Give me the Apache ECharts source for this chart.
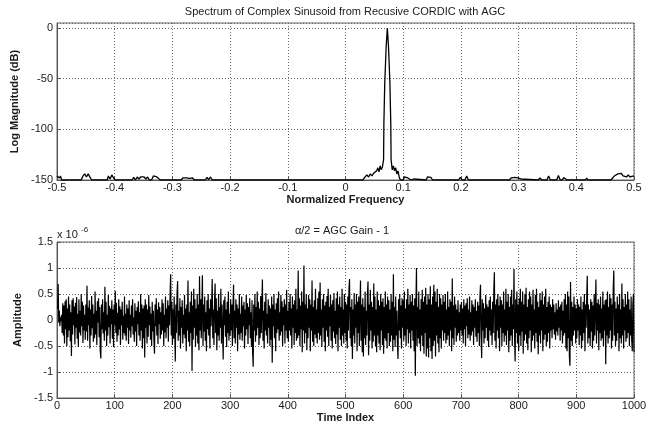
<!DOCTYPE html>
<html>
<head>
<meta charset="utf-8">
<script src="https://cdn.jsdelivr.net/npm/echarts@6/dist/echarts.min.js"></script>
<style>
  html, body { margin: 0; padding: 0; background: #fff; }
  #chart { width: 659px; height: 421px; }
</style>
</head>
<body>
<div id="chart"></div>
<script>
// top plot: spectrum (normalized frequency, dB)
const specFreq = [
  -0.5, -0.498, -0.496, -0.494, -0.492,
  -0.483, -0.481, -0.479,
  -0.458, -0.455, -0.452, -0.449, -0.446, -0.443, -0.44,
  -0.413, -0.411, -0.408, -0.405, -0.402, -0.399,
  -0.395, -0.393, -0.391,
  -0.37, -0.367, -0.364, -0.361, -0.358, -0.355, -0.352, -0.349, -0.346, -0.343, -0.34,
  -0.336, -0.333, -0.33, -0.327, -0.324, -0.321,
  -0.302, -0.3, -0.298,
  -0.285, -0.282, -0.279, -0.275, -0.271, -0.268, -0.265, -0.262,
  -0.243, -0.24, -0.237, -0.234, -0.231,
  -0.154, -0.152, -0.15,
  -0.058, -0.056, -0.054,
  -0.003, 0, 0.003,
  0.03, 0.034, 0.037, 0.04, 0.043, 0.046, 0.049, 0.052, 0.054, 0.056, 0.058, 0.06, 0.062, 0.064, 0.066,
  0.0665, 0.068, 0.0705, 0.0725, 0.0745, 0.077, 0.0785, 0.079, 0.081,
  0.083, 0.085, 0.087, 0.089, 0.091, 0.093, 0.095,
  0.1, 0.102, 0.105, 0.108, 0.111, 0.114, 0.118, 0.12,
  0.14, 0.142, 0.145, 0.148, 0.151, 0.158, 0.16, 0.162,
  0.196, 0.199, 0.202, 0.207, 0.21, 0.213,
  0.23, 0.232, 0.234, 0.25, 0.252, 0.254,
  0.284, 0.287, 0.29, 0.294, 0.298, 0.301, 0.304, 0.307,
  0.334, 0.337, 0.34, 0.349, 0.352, 0.355,
  0.366, 0.369, 0.372, 0.376, 0.378, 0.381, 0.384, 0.39, 0.392, 0.394,
  0.416, 0.418, 0.42,
  0.46, 0.463, 0.466, 0.469, 0.472, 0.475, 0.478, 0.481, 0.484, 0.487, 0.49, 0.493, 0.496, 0.5
];
const specDb = [
  -146, -145, -148, -146, -150,
  -150, -148.5, -150,
  -150, -146, -144, -147, -144, -145, -150,
  -150, -146, -149, -145, -148, -150,
  -150, -149, -150,
  -150, -147.5, -150, -147, -149, -147, -148, -147, -149, -147, -150,
  -150, -146, -145, -147, -148.5, -150,
  -150, -148.5, -150,
  -150, -148, -149.5, -148, -148.5, -150, -148, -150,
  -150, -147.5, -149.5, -147, -150,
  -150, -149, -150,
  -150, -149, -150,
  -150, -148.5, -150,
  -150, -147, -145, -147, -144, -146, -143, -144, -141, -138, -142, -136, -140, -137, -130,
  -95, -55, -18, 0, -18, -55, -95, -130, -140,
  -136, -141, -138, -144, -141, -147, -150,
  -150, -147, -146, -148, -147, -150, -149, -150,
  -150, -147, -148, -147.5, -150, -150, -149, -150,
  -150, -147.5, -150, -150, -146, -150,
  -150, -149, -150, -150, -149.5, -150,
  -150, -148, -149, -147.5, -148, -146.5, -149, -150,
  -150, -148, -150, -150, -146, -150,
  -150, -145.5, -150, -150, -147.5, -148, -150, -150, -149, -150,
  -150, -148, -150,
  -150, -148, -146, -147.5, -144, -145.5, -143.5, -146, -144.5, -147, -145, -147, -145.5, -146
];
const specYTicks = [-150, 0];

// bottom plot: AGC error, amplitude in units of 1e-6, time index 1..1000
const agcError = [
  0.21,0.69,-0.05,0.18,-0.12,0.05,-0.02,0.1,-0.25,0.32,-0.3,0.28,-0.45,0.36,-0.18,0.4,-0.5,0.22,-0.33,0.45,
  -0.2,0.3,-0.41,0.15,-0.69,0.38,-0.28,0.42,-0.1,0.26,-0.47,0.33,-0.15,0.44,-0.36,0.12,-0.52,0.4,-0.24,0.18,
  -0.3,0.5,-0.12,0.35,-0.44,0.28,-0.2,0.1,-0.38,0.3,
  -0.22,0.66,-0.4,0.24,-0.1,0.38,-0.55,0.2,-0.3,0.46,-0.16,0.3,-0.42,0.12,-0.35,0.55,-0.28,0.18,-0.48,0.36,
  -0.05,0.42,-0.33,0.25,-0.6,-0.74,0.3,-0.18,0.4,-0.26,0.15,-0.4,0.64,-0.2,0.35,-0.5,0.1,-0.3,0.48,-0.14,
  0.27,-0.45,0.22,-0.08,0.38,-0.36,0.2,-0.52,0.3,-0.1,
  0.56,-0.25,0.33,-0.42,0.14,-0.3,0.4,-0.18,0.26,-0.48,0.2,-0.1,0.35,-0.38,0.08,-0.25,0.45,-0.3,0.12,-0.4,
  0.3,-0.15,0.22,-0.46,0.38,-0.2,0.1,-0.34,0.28,-0.12,0.4,-0.28,0.05,-0.42,0.32,-0.22,0.18,-0.5,0.25,-0.08,
  0.36,-0.3,0.15,-0.4,0.5,-0.2,0.3,-0.55,0.22,-0.35,
  0.28,-0.72,0.4,-0.15,0.3,-0.45,0.2,-0.32,0.48,-0.1,0.26,-0.38,0.12,-0.5,0.35,-0.22,0.18,-0.4,-0.65,0.3,
  -0.12,0.42,-0.3,0.2,-0.46,0.34,-0.08,0.25,-0.36,0.15,-0.28,0.4,-0.2,0.32,-0.5,0.1,-0.24,0.45,-0.35,0.22,
  -0.15,0.38,-0.42,0.28,-0.1,0.5,0.88,-0.3,0.35,-0.48,
  0.2,-0.36,0.45,-0.12,-0.8,0.3,-0.25,0.5,0.75,-0.4,0.18,-0.3,0.42,-0.55,0.25,-0.15,0.38,-0.45,0.1,-0.28,
  0.48,-0.35,0.22,-0.6,0.3,-0.2,0.76,-0.42,0.15,-0.5,0.35,-0.25,0.55,-0.98,0.28,-0.38,0.6,-0.15,0.4,-0.52,
  0.22,-0.3,0.5,-0.45,0.3,-0.58,0.84,-0.2,0.4,-0.35,
  0.25,0.86,-0.5,0.3,-0.22,0.45,-0.4,0.15,-0.6,0.38,-0.18,0.5,-0.3,0.22,-0.55,0.4,-0.12,0.28,0.79,-0.35,
  0.2,-0.48,0.35,0.7,-0.25,0.42,-0.58,0.18,-0.3,0.5,-0.4,0.25,-0.15,0.6,-0.45,0.3,-0.2,-0.76,0.38,-0.1,
  0.45,-0.32,0.2,-0.52,0.35,-0.25,0.55,-0.4,0.12,-0.3,
  0.4,-0.2,0.3,-0.5,0.25,0.68,-0.35,0.18,-0.45,0.4,-0.15,0.3,-0.6,0.22,-0.28,0.5,-0.38,0.12,-0.25,0.45,
  -0.4,0.28,-0.12,0.35,-0.55,0.2,-0.3,0.48,-0.18,0.32,-0.46,0.25,-0.1,0.42,-0.35,0.15,-0.52,0.38,-0.6,-0.9,
  0.3,-0.2,0.5,-0.42,0.25,-0.3,0.55,-0.15,0.35,-0.48,
  0.22,-0.35,0.46,-0.25,0.3,0.78,-0.4,0.18,-0.55,0.35,-0.2,0.52,-0.3,0.12,-0.45,0.4,-0.15,0.28,-0.5,0.22,
  -0.38,0.45,-0.82,0.3,-0.12,0.5,-0.35,0.2,-0.6,0.32,-0.25,0.42,-0.18,0.55,-0.4,0.15,-0.3,0.48,-0.22,0.36,
  -0.5,0.25,-0.1,0.4,-0.45,0.3,-0.2,0.58,-0.35,0.18,
  -0.42,0.35,-0.2,0.5,-0.3,0.22,-0.55,0.45,-0.15,0.3,-0.48,0.38,-0.25,0.6,-0.4,0.2,-0.35,0.95,-0.3,0.42,
  -0.5,0.28,-0.18,0.55,-0.62,0.35,-0.2,1.05,-0.45,0.3,-0.25,0.5,-0.58,0.22,-0.35,0.48,-0.15,0.4,-0.6,0.3,
  -0.2,0.76,-0.42,0.25,-0.5,0.38,-0.28,0.6,-0.35,0.2,
  -0.45,0.42,-0.25,0.55,-0.38,0.72,-0.3,0.2,-0.52,0.4,-0.15,0.5,-0.42,0.28,-0.6,0.35,-0.2,0.46,-0.32,0.6,
  -0.5,0.25,-0.12,0.48,-0.4,0.3,-0.55,0.38,-0.22,0.52,-0.35,0.18,-0.46,0.42,-0.28,0.55,-0.6,0.3,-0.15,0.45,
  -0.38,0.25,-0.5,0.6,-0.3,0.2,-0.45,0.5,-0.25,0.35,
  -0.4,0.3,-0.55,0.45,-0.2,0.6,0.79,-0.35,0.25,-0.5,0.4,-0.75,0.2,-0.3,0.52,-0.45,0.3,-0.15,0.5,-0.6,
  0.35,-0.25,0.45,-0.5,0.2,0.76,-0.4,0.3,-0.62,0.42,-0.7,0.25,-0.35,0.55,-0.48,0.18,-0.3,0.5,0.74,-0.68,
  0.3,-0.4,0.58,-0.2,0.35,-0.55,0.25,-0.42,0.7,-0.3,
  0.45,-0.5,0.2,-0.62,0.55,-0.3,0.38,-0.45,0.28,-0.58,0.5,-0.2,0.35,-0.48,0.42,-0.65,0.25,-0.35,0.55,-0.4,
  0.3,-0.55,0.45,-0.25,0.38,-0.5,0.2,-0.42,0.5,-0.3,0.35,-0.6,0.88,-0.38,0.25,-0.52,0.45,-0.3,0.18,-0.45,
  -0.75,0.4,-0.2,0.5,-0.35,0.28,-0.55,0.42,-0.15,0.38,
  -0.4,0.55,-0.3,0.22,-0.5,0.4,-0.18,0.6,-0.45,0.3,-0.25,0.48,-0.55,0.35,-0.2,0.5,-0.4,0.28,-0.6,0.42,
  -1.07,0.3,1.0,-0.5,0.25,-0.35,0.55,-0.45,0.2,-0.6,0.4,-0.3,0.58,-0.5,0.35,-0.65,0.45,-0.25,0.62,-0.7,
  0.3,-0.55,0.5,-0.72,0.4,-0.35,0.65,-0.6,0.3,-0.75,
  0.45,-0.5,0.68,-0.4,0.55,-0.7,0.35,-0.3,0.6,-0.45,0.25,-0.62,0.5,-0.35,0.42,-0.55,0.3,-0.2,0.48,-0.4,
  0.35,-0.25,0.5,-0.45,0.2,-0.38,0.55,-0.3,0.25,-0.5,0.4,-0.2,0.35,-0.6,0.8,-0.35,0.28,-0.48,0.45,-0.15,
  0.3,-0.42,0.2,-0.3,0.38,-0.25,0.15,-0.4,0.3,-0.2,
  0.35,-0.3,0.22,-0.45,0.4,-0.18,0.28,-0.5,0.32,-0.12,0.42,-0.35,0.2,-0.28,0.45,-0.4,0.15,-0.3,0.38,-0.22,
  0.3,-0.48,0.25,-0.15,0.4,-0.32,0.18,-0.42,0.35,-0.25,0.28,-0.5,0.45,0.68,-0.3,-0.73,0.4,-0.2,0.32,-0.45,
  0.22,-0.35,0.48,-0.15,0.3,-0.4,0.25,-0.52,0.38,-0.2,
  0.45,-0.3,0.2,-0.48,0.35,-0.25,0.55,0.92,-0.4,0.3,-0.55,0.4,-0.2,0.5,-0.35,0.28,-0.6,0.45,-0.15,0.38,
  -0.5,0.3,-0.25,0.55,-0.42,0.2,-0.3,0.6,-0.48,0.35,-0.2,0.5,-0.62,0.25,-0.4,0.45,-0.3,0.58,-0.5,0.3,
  -0.18,0.98,-0.35,-0.8,0.4,-0.25,0.55,-0.45,0.3,-0.6,
  0.42,-0.3,0.6,-0.5,0.35,-0.22,0.55,-0.65,0.3,-0.4,0.5,-0.28,0.62,-0.45,0.25,-0.58,0.4,-0.35,0.55,-0.2,
  0.45,-0.62,0.3,-0.4,0.58,-0.3,0.2,-0.55,0.48,-0.25,0.6,-0.42,0.35,-0.66,0.25,-0.3,0.52,-0.45,0.38,-0.2,
  0.55,-0.6,0.3,-0.38,0.45,-0.28,0.6,-0.5,0.25,-0.42,
  0.35,-0.25,0.45,-0.55,0.3,-0.2,0.25,-0.35,0.4,-0.18,0.3,-0.28,0.15,-0.38,0.32,-0.22,0.2,-0.3,0.38,-0.15,
  0.25,-0.4,0.3,-0.2,0.35,-0.45,0.18,-0.3,0.4,-0.25,0.5,-0.55,0.3,-0.6,0.55,-0.35,0.45,-0.7,-0.88,0.73,
  -0.4,0.35,-0.5,0.25,-0.3,0.45,-0.2,0.3,-0.45,0.22,
  -0.35,0.4,-0.2,0.3,-0.48,0.25,-0.3,0.45,-0.55,0.2,-0.4,0.35,-0.25,0.5,-0.6,0.3,-0.15,0.42,0.85,-0.45,
  0.3,-0.35,0.2,-0.5,0.4,-0.22,0.35,-0.55,0.28,-0.4,0.5,-0.3,0.25,0.78,-0.45,0.32,-0.2,0.4,-0.58,0.3,
  -0.25,0.45,-0.4,0.22,-0.35,0.55,-0.5,0.3,-0.2,0.38,
  -0.85,0.4,-0.3,0.55,-0.45,0.25,-0.35,0.5,-0.2,0.42,-0.55,0.3,-0.4,0.6,0.95,-0.3,0.35,-0.5,0.22,-0.4,
  0.45,-0.25,0.3,-0.6,0.5,-0.35,0.2,-0.45,0.7,-0.3,0.4,-0.55,0.25,-0.2,0.5,-0.42,0.3,-0.35,0.55,-0.25,
  0.4,-0.5,0.2,-0.3,0.45,-0.38,-0.6,0.3,0.5,-0.62
];

const font = 'Liberation Sans, Arial, Helvetica, sans-serif';
const txt = '#1a1a1a';
const fmt = v => String(+v.toFixed(2));

function xAxisOf(gridIndex, min, max, interval, name, nameGap) {
  return {
    type: 'value', gridIndex, min, max, interval,
    name, nameLocation: 'middle', nameGap,
    nameTextStyle: { fontFamily: font, fontSize: 11, fontWeight: 'bold', color: txt },
    axisLine: { show: true, onZero: false, lineStyle: { color: '#555', width: 1 } },
    axisTick: { show: true, inside: true, length: 4, lineStyle: { color: '#555' } },
    axisLabel: { fontFamily: font, fontSize: 11, color: txt, margin: 2, formatter: fmt },
    splitLine: { show: true, lineStyle: { color: '#666', type: [1, 2], width: 1 } }
  };
}

function yAxisOf(gridIndex, min, max, interval, name, nameGap) {
  return {
    type: 'value', gridIndex, min, max, interval,
    name, nameLocation: 'middle', nameGap,
    nameTextStyle: { fontFamily: font, fontSize: 11, fontWeight: 'bold', color: txt },
    axisLine: { show: true, onZero: false, lineStyle: { color: '#555', width: 1 } },
    axisTick: { show: true, inside: true, length: 4, lineStyle: { color: '#555' } },
    axisLabel: { fontFamily: font, fontSize: 11, color: txt, margin: 4, showMaxLabel: max === 1.5, formatter: fmt },
    splitLine: { show: true, lineStyle: { color: '#666', type: [1, 2], width: 1 } }
  };
}

const chart = echarts.init(document.getElementById('chart'), null, { renderer: 'canvas' });
chart.setOption({
  animation: false,
  backgroundColor: '#fff',
  grid: [
    { left: 57, right: 25, top: 23, height: 157, show: true, borderColor: '#666', borderWidth: 1, outerBoundsMode: 'none' },
    { left: 57, right: 25, top: 242, height: 156, show: true, borderColor: '#666', borderWidth: 1, outerBoundsMode: 'none' }
  ],
  xAxis: [
    xAxisOf(0, -0.5, 0.5, 0.1, 'Normalized Frequency', 14),
    xAxisOf(1, 0, 1000, 100, 'Time Index', 14)
  ],
  yAxis: [
    yAxisOf(0, specYTicks[0], 5, 50, 'Log Magnitude (dB)', 27),
    yAxisOf(1, -1.5, 1.5, 0.5, 'Amplitude', 24)
  ],
  graphic: [
    { type: 'text', x: 345, y: 12, style: { text: 'Spectrum of Complex Sinusoid from Recusive CORDIC with AGC', fill: txt, font: '11px ' + font, textAlign: 'center', textVerticalAlign: 'middle' } },
    { type: 'text', x: 342, y: 231, style: { text: 'α/2 = AGC Gain - 1', fill: txt, font: '11px ' + font, textAlign: 'center', textVerticalAlign: 'middle' } },
    { type: 'text', x: 57, y: 235, style: { text: 'x 10', fill: txt, font: '11px ' + font, textVerticalAlign: 'middle' } },
    { type: 'text', x: 81, y: 230, style: { text: '-6', fill: txt, font: '8px ' + font, textVerticalAlign: 'middle' } }
  ],
  series: [
    {
      type: 'line', xAxisIndex: 0, yAxisIndex: 0, showSymbol: false,
      lineStyle: { color: '#000', width: 1.3 },
      data: specFreq.map((f, i) => [f, specDb[i]])
    },
    {
      type: 'line', xAxisIndex: 1, yAxisIndex: 1, showSymbol: false,
      lineStyle: { color: '#000', width: 1.2 },
      data: agcError.map((v, i) => [i + 1, v])
    }
  ]
});
</script>
</body>
</html>
